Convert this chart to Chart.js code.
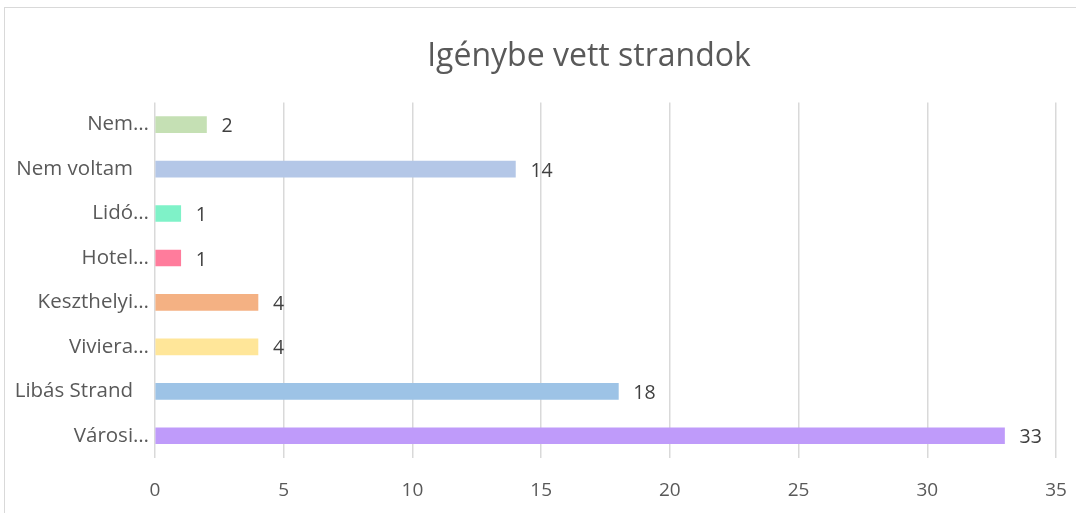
<!DOCTYPE html>
<html>
<head>
<meta charset="utf-8">
<script src="https://cdn.jsdelivr.net/npm/chart.js@4.4.1/dist/chart.umd.min.js"></script>
<style>
    html, body { margin: 0; padding: 0; background: #fff; overflow: hidden; }
    #frame { position: absolute; left: 4px; top: 7px; width: 1200px; height: 600px; border: 1px solid #d9d9d9; }
    #wrap { position: absolute; left: 0; top: 0; width: 1178px; height: 513px; }
</style>
</head>
<body>
<div id="frame"></div>
<div id="wrap"><canvas id="chart"></canvas></div>
<script>
// Igénybe vett strandok
const categories = ['Városi…', 'Libás Strand   ', 'Viviera…', 'Keszthelyi…', 'Hotel…', 'Lidó…', 'Nem voltam   ', 'Nem…'];
const values = [33, 18, 4, 4, 1, 1, 14, 2];
const barColors = ['#bf9bfa', '#9dc3e6', '#ffe699', '#f4b183', '#ff7c9c', '#7ff2c8', '#b4c7e7', '#c5e0b4'];
const xTicks = [0, 5, 10, 15, 20, 25, 30, 35];

const FONT = '"Open Sans", Lato, sans-serif';

// values next to the bar ends
const valueLabels = {
    id: 'valueLabels',
    afterDatasetsDraw: function (chart) {
        const ctx = chart.ctx;
        const meta = chart.getDatasetMeta(0);
        ctx.save();
        ctx.font = '19.5px ' + FONT;
        ctx.fillStyle = '#404040';
        ctx.textBaseline = 'middle';
        ctx.textAlign = 'left';
        meta.data.forEach(function (bar, i) {
            ctx.fillText(String(values[i]), bar.x + 15, bar.y + 2);
        });
        ctx.restore();
    }
};

new Chart(document.getElementById('chart'), {
    type: 'bar',
    data: {
        labels: categories,
        datasets: [{
            data: values,
            backgroundColor: barColors,
            borderWidth: 0,
            barThickness: 16
        }]
    },
    options: {
        indexAxis: 'y',
        responsive: true,
        maintainAspectRatio: false,
        animation: false,
        layout: { padding: 0 },
        plugins: {
            legend: { display: false },
            tooltip: { enabled: false },
            title: {
                display: true,
                text: 'Igénybe vett strandok',
                color: '#595959',
                font: { family: FONT, size: 32, weight: 'normal' },
                padding: { top: 38, bottom: 26 }
            }
        },
        scales: {
            x: {
                min: 0,
                max: 35,
                afterBuildTicks: function (scale) {
                    scale.ticks = xTicks.map(function (v) { return { value: v }; });
                },
                afterFit: function (scale) { scale.height = 55; },
                grid: { color: '#d9d9d9', lineWidth: 1.5, drawTicks: false },
                border: { display: false },
                ticks: { color: '#595959', padding: 21, font: { family: FONT, size: 19 } }
            },
            y: {
                reverse: true,
                afterFit: function (scale) { scale.width = 155; },
                grid: { display: false, drawTicks: false },
                border: { display: false },
                ticks: { color: '#595959', padding: 6, font: { family: FONT, size: 20.5 } }
            },
            // empty right-hand spacer so the plot ends where the reference does
            yRight: {
                type: 'category',
                position: 'right',
                afterFit: function (scale) { scale.width = 122; },
                grid: { display: false, drawTicks: false },
                border: { display: false },
                ticks: { display: false }
            }
        }
    },
    plugins: [valueLabels]
});
</script>
</body>
</html>
